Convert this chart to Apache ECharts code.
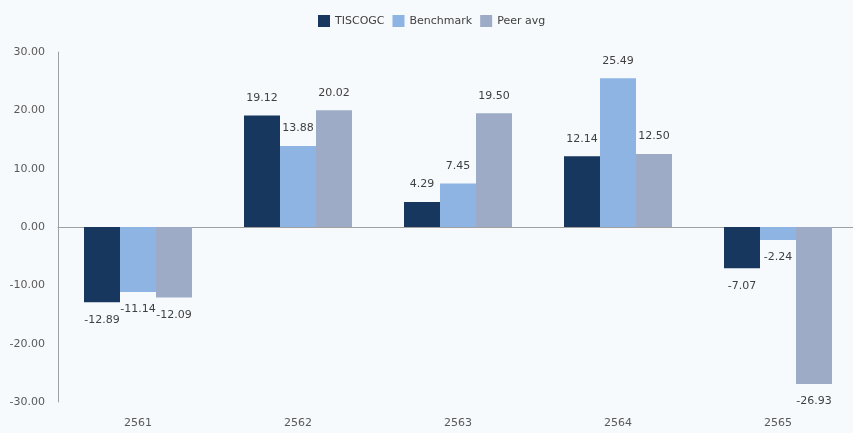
<!DOCTYPE html>
<html>
<head>
<meta charset="utf-8">
<script src="https://cdn.jsdelivr.net/npm/echarts@6/dist/echarts.min.js"></script>
<style>
  html, body { margin: 0; padding: 0; background: #f7fafd; overflow: hidden; }
  #main { width: 862px; height: 433px; }
</style>
</head>
<body>
<div id="main"></div>
<script>
// ข้อมูล
var years = ["2561", "2562", "2563", "2564", "2565"];
var tiscogc = [-12.89, 19.12, 4.29, 12.14, -7.07];
var benchmark = [-11.14, 13.88, 7.45, 25.49, -2.24];
var peerAvg = [-12.09, 20.02, 19.50, 12.50, -26.93];

var colors = ["#17375e", "#8db4e2", "#9dabc6"];

// label ไว้บน/ล่างแท่งตามค่าบวกลบ
function toData(arr) {
  return arr.map(function (v) {
    return { value: v, label: { position: v >= 0 ? "top" : "bottom" } };
  });
}

function makeSeries(name, arr, i) {
  return {
    name: name,
    type: "bar",
    xAxisIndex: 0,
    barWidth: 36,
    barGap: "0%",
    itemStyle: { color: colors[i] },
    label: {
      show: true,
      distance: 12,
      fontFamily: "DejaVu Sans",
      fontSize: 11,
      color: "#404040",
      formatter: function (p) { return p.value.toFixed(2); }
    },
    data: toData(arr)
  };
}

var myChart = echarts.init(document.getElementById("main"));
myChart.setOption({
  backgroundColor: "#f7fafd",
  animation: false,
  legend: {
    top: 10,
    left: 313,
    icon: "rect",
    itemWidth: 12,
    itemHeight: 12,
    itemGap: 8,
    textStyle: { fontFamily: "DejaVu Sans", fontSize: 11, color: "#404040" },
    data: ["TISCOGC", "Benchmark", "Peer avg"]
  },
  grid: { left: 58, right: 4, top: 52, bottom: 31 },
  xAxis: [
    {
      type: "category",
      data: years,
      axisLine: { onZero: true, lineStyle: { color: "#a0a0a0" } },
      axisTick: { show: false },
      axisLabel: { show: false }
    },
    {
      // แกนล่างสำหรับชื่อปี
      type: "category",
      data: years,
      position: "bottom",
      axisLine: { show: false },
      axisTick: { show: false },
      axisLabel: { margin: 16, fontFamily: "DejaVu Sans", fontSize: 11, color: "#595959" }
    }
  ],
  yAxis: {
    type: "value",
    min: -30,
    max: 30,
    interval: 10,
    axisLine: { show: true, lineStyle: { color: "#a0a0a0" } },
    axisTick: { show: false },
    splitLine: { show: false },
    axisLabel: {
      margin: 13,
      fontFamily: "DejaVu Sans",
      fontSize: 11,
      color: "#595959",
      formatter: function (v) { return v.toFixed(2); }
    }
  },
  series: [
    makeSeries("TISCOGC", tiscogc, 0),
    makeSeries("Benchmark", benchmark, 1),
    makeSeries("Peer avg", peerAvg, 2)
  ]
});
</script>
</body>
</html>
